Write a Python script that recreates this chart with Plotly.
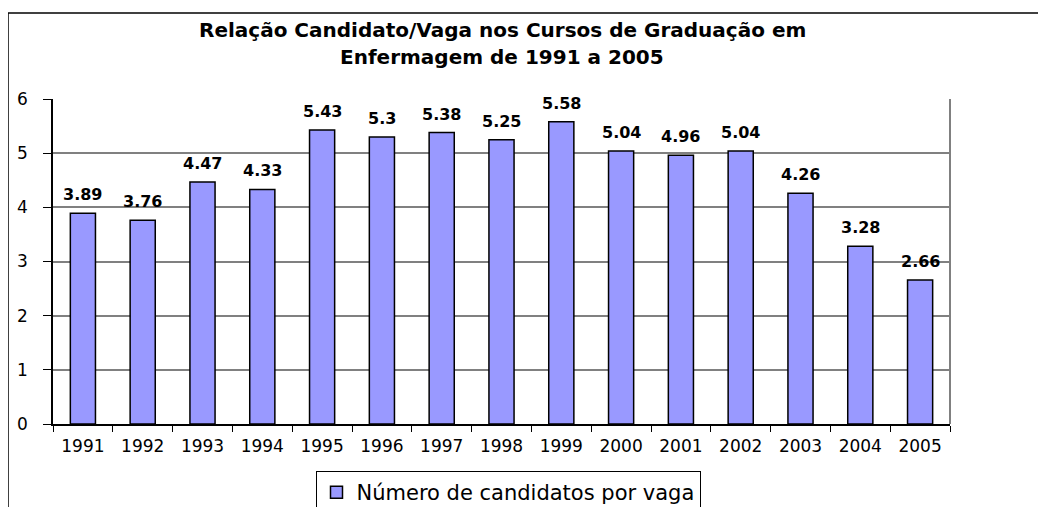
import plotly.graph_objects as go

anos = ["1991", "1992", "1993", "1994", "1995", "1996", "1997", "1998",
        "1999", "2000", "2001", "2002", "2003", "2004", "2005"]
candidatos_por_vaga = [3.89, 3.76, 4.47, 4.33, 5.43, 5.3, 5.38, 5.25,
                       5.58, 5.04, 4.96, 5.04, 4.26, 3.28, 2.66]
titulo_l1 = "Relação Candidato/Vaga nos Cursos de Graduação em"
titulo_l2 = "Enfermagem de 1991 a 2005"
serie = "Número de candidatos por vaga"

FONT = "DejaVu Sans, Arial, sans-serif"

# a página tem margem de 8px no body; tudo abaixo está em px da tela
OFF = 8
W, H = 1046 - OFF, 507 - OFF
L, R, T, B = 53 - OFF, 96, 99 - OFF, 83
pw, ph = W - L - R, H - T - B


def px_x(p):
    return (p - OFF - L) / pw


def px_y(p):
    return (H - B - (p - OFF)) / ph


fig = go.Figure()
fig.add_trace(go.Bar(
    x=anos,
    y=candidatos_por_vaga,
    name=serie,
    width=0.42,
    marker=dict(color="#9999FF", line=dict(color="black", width=1.5)),
    showlegend=True,
))

# rótulos de valor acima das barras (x = índice da categoria)
for i, v in enumerate(candidatos_por_vaga):
    fig.add_annotation(x=i, y=v, text="<b>" + str(v) + "</b>",
                       showarrow=False, yanchor="bottom", yshift=7,
                       font=dict(family=FONT, size=16, color="black"))

# moldura externa (só topo e esquerda visíveis)
fig.add_shape(type="line", xref="paper", yref="paper",
              x0=px_x(8), x1=px_x(1046), y0=px_y(13), y1=px_y(13),
              line=dict(color="black", width=1.5))
fig.add_shape(type="line", xref="paper", yref="paper",
              x0=px_x(8), x1=px_x(8), y0=px_y(13), y1=px_y(507),
              line=dict(color="black", width=1.5))
# borda direita da área do gráfico
fig.add_shape(type="line", xref="paper", yref="paper",
              x0=1, x1=1, y0=0, y1=1,
              line=dict(color="#808080", width=2))

for txt, ypx in [(titulo_l1, 30), (titulo_l2, 57)]:
    fig.add_annotation(text="<b>" + txt + "</b>", xref="paper", yref="paper",
                       x=px_x(502), y=px_y(ypx), xanchor="center",
                       yanchor="middle", showarrow=False,
                       font=dict(family=FONT, size=20, color="black"))

fig.update_layout(
    width=W, height=H,
    margin=dict(l=L, r=R, t=T, b=B, autoexpand=False),
    paper_bgcolor="white",
    plot_bgcolor="white",
    font=dict(family=FONT, color="black"),
    legend=dict(orientation="h", x=(508 - OFF) / W, xref="container",
                xanchor="center",
                y=1 - (471 - OFF) / H, yref="container", yanchor="top",
                bordercolor="black", borderwidth=1,
                font=dict(family=FONT, size=21, color="black")),
)
fig.update_xaxes(
    type="category", categoryarray=anos,
    range=[-0.5, len(anos) - 0.5],
    showline=True, linecolor="black", linewidth=1.5,
    ticks="outside", tickson="boundaries", ticklen=6, tickcolor="black",
    ticklabelstandoff=6,
    tickfont=dict(family=FONT, size=17, color="black"),
    showgrid=False,
)
fig.update_yaxes(
    range=[0, 6], dtick=1,
    showline=True, linecolor="black", linewidth=1.5,
    ticks="outside", ticklen=8, tickcolor="black",
    ticklabelstandoff=12,
    tickfont=dict(family=FONT, size=17, color="black"),
    showgrid=True, gridcolor="#808080", gridwidth=1.5,
    zeroline=False,
)

fig.write_html("out.html")
